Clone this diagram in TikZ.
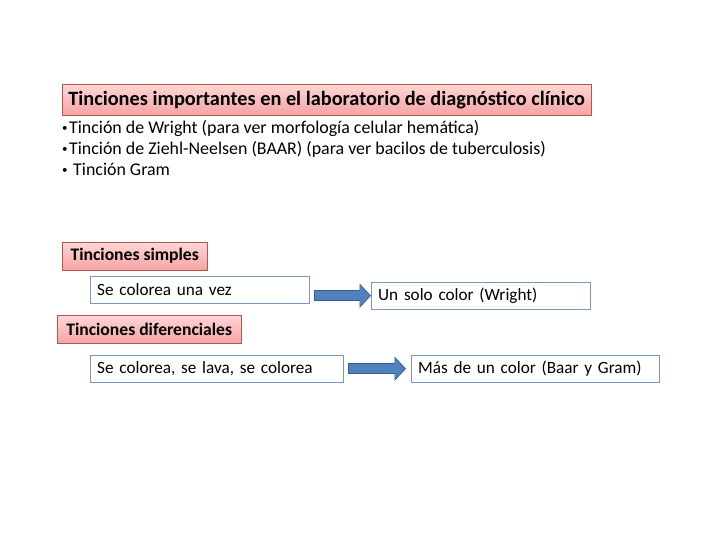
\documentclass[tikz,border=0pt]{standalone}
\usepackage{fontspec}
\setmainfont{Carlito}
\usetikzlibrary{arrows.meta}

\definecolor{boxred}{HTML}{B85450}
\definecolor{pinktop}{HTML}{FFD6D6}
\definecolor{pinkbot}{HTML}{F5A3A3}
\definecolor{boxblue}{HTML}{7A96B8}
\definecolor{arrowblue}{HTML}{4F81BD}
\definecolor{arrowdark}{HTML}{385D8A}

\newcommand{\vineta}{{\fontsize{11}{11}\selectfont\raisebox{1.5pt}{•}}\hspace{1.5pt}}

\tikzset{
  titlebox/.style={draw=boxred, top color=pinktop, bottom color=pinkbot,
    font=\bfseries, inner sep=0pt, anchor=north west},
  infobox/.style={draw=boxblue, fill=white, align=left, inner xsep=7pt,
    inner ysep=0pt, minimum height=27pt, anchor=north west,
    font=\fontsize{17.2}{20}\selectfont},
  arrowrim/.style={-{Triangle[length=11.5pt,width=24pt]}, line width=10.5pt, draw=arrowdark},
  bigarrow/.style={-{Triangle[length=10pt,width=21pt]}, line width=8.5pt, draw=arrowblue,
    shorten <=0.8pt, shorten >=1.2pt}
}

\begin{document}
\begin{tikzpicture}[x=1pt, y=-1pt]
    \useasboundingbox (0,0) rectangle (720,540);

    % Heading and list
    \node[titlebox, minimum width=529pt, minimum height=31pt,
          font=\bfseries\fontsize{20.3}{24}\selectfont] (titulo) at (62,84)
          {Tinciones importantes en el laboratorio de diagnóstico clínico};
    \node[anchor=north west, align=left, inner sep=0pt,
          font=\fontsize{17.9}{21}\selectfont] (lista) at (62,120)
          {\vineta Tinción de Wright (para ver morfología celular hemática)\\
           \vineta Tinción de Ziehl-Neelsen (BAAR) (para ver bacilos de tuberculosis)\\
           \vineta\ Tinción Gram};

    % Simple stains
    \node[titlebox, minimum width=145pt, minimum height=28pt,
          font=\bfseries\fontsize{17.6}{20}\selectfont] (simples) at (62,242)
          {Tinciones simples};
    \node[infobox, text width=205pt] (vez) at (90,276) {Se colorea una vez};
    \node[infobox, text width=205pt] (solo) at (371,282) {Un solo color (Wright)};

    % Differential stains
    \node[titlebox, minimum width=184pt, minimum height=28pt,
          font=\bfseries\fontsize{17.6}{20}\selectfont] (diferenciales) at (57,315)
          {Tinciones diferenciales};
    \node[infobox, text width=239pt] (lava) at (90,355) {Se colorea, se lava, se colorea};
    \node[infobox, text width=234pt] (mas) at (411,355) {Más de un color (Baar y Gram)};

    % Arrows (dark rim, then fill)
    \draw[arrowrim] ([xshift=5pt]vez.east |- solo.west) -- (solo.west);
    \draw[bigarrow] ([xshift=5pt]vez.east |- solo.west) -- (solo.west);
    \draw[arrowrim] ([xshift=5pt]lava.east) -- ([xshift=-5pt]mas.west);
    \draw[bigarrow] ([xshift=5pt]lava.east) -- ([xshift=-5pt]mas.west);
\end{tikzpicture}
\end{document}
